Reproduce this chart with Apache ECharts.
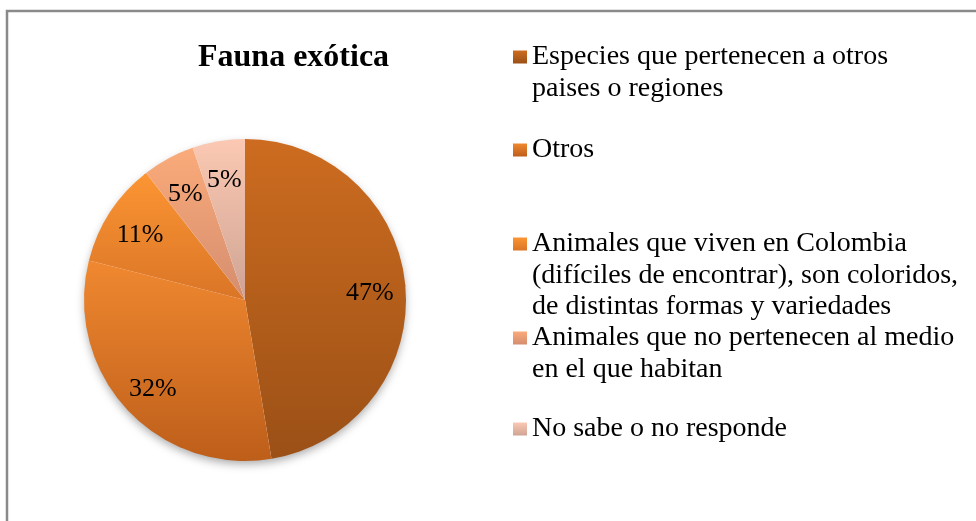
<!DOCTYPE html>
<html>
<head>
<meta charset="utf-8">
<script src="https://cdn.jsdelivr.net/npm/echarts@6/dist/echarts.min.js"></script>
<style>
  html, body { margin: 0; padding: 0; background: #fff; }
  #chart { width: 976px; height: 521px; }
</style>
</head>
<body>
<div id="chart"></div>
<script>
// survey answers (19 people)
var categories = [
    'Especies que pertenecen a otros paises o regiones',
    'Otros',
    'Animales que viven en Colombia (difíciles de encontrar), son coloridos, de distintas formas y variedades',
    'Animales que no pertenecen al medio en el que habitan',
    'No sabe o no responde'
];
var counts = [9, 6, 2, 1, 1];
// wrapped legend lines, as in the original
var legendLines = [
    ['Especies que pertenecen a otros', 'paises o regiones'],
    ['Otros'],
    ['Animales que viven en Colombia', '(difíciles de encontrar), son coloridos,', 'de distintas formas y variedades'],
    ['Animales que no pertenecen al medio', 'en el que habitan'],
    ['No sabe o no responde']
];
var topColors = ['#cd6c20', '#f08830', '#fc9533', '#fbab7a', '#fbc9b3'];
var bottomColors = ['#9b5016', '#bd5e1a', '#da7527', '#d48d6f', '#cfa393'];

var pieCenter = [245, 300];
var lineH = 31.5;
var firstLineMid = [57, 150, 244, 338, 429];

function grad(i) {
    return new echarts.graphic.LinearGradient(0, 0, 0, 1, [
        {offset: 0, color: topColors[i]},
        {offset: 1, color: bottomColors[i]}
    ]);
}

var pieData = categories.map(function (c, i) {
    return {name: c, value: counts[i], itemStyle: {color: grad(i)}};
});

var legends = categories.map(function (c, i) {
    var n = legendLines[i].length;
    return {
        data: [c],
        left: 513,
        top: firstLineMid[i] - (n - 1) * lineH - lineH / 2,
        padding: 0,
        icon: 'rect',
        itemWidth: 14,
        itemHeight: 13,
        selectedMode: false,
        formatter: function () {
            var pre = [];
            for (var k = 1; k < n; k++) pre.push('');
            return pre.concat(legendLines[i]).join('\n');
        },
        textStyle: {
            fontFamily: 'Liberation Serif',
            fontSize: 28,
            lineHeight: lineH,
            color: '#000'
        }
    };
});

var chart = echarts.init(document.getElementById('chart'));
var option = {
    backgroundColor: '#fff',
    animation: false,
    title: {
        text: 'Fauna exótica',
        left: 198,
        top: 42,
        padding: 0,
        textStyle: {
            fontFamily: 'Liberation Serif',
            fontSize: 32,
            fontWeight: 'bold',
            color: '#000'
        }
    },
    legend: legends,
    graphic: [{
        type: 'rect',
        silent: true,
        shape: {x: 7, y: 11, width: 1000, height: 600},
        style: {fill: 'none', stroke: '#8a8a8a', lineWidth: 2.5}
    }],
    series: [{
        type: 'pie',
        z: 3,
        center: pieCenter,
        radius: 161,
        startAngle: 90,
        clockwise: true,
        percentPrecision: 0,
        label: {
            position: 'inside',
            formatter: '{d}%',
            fontFamily: 'Liberation Serif',
            fontSize: 26,
            color: '#000'
        },
        labelLayout: function (p) {
            var r = p.labelRect;
            var lx = r.x + r.width / 2, ly = r.y + r.height / 2;
            var k = 1.5;
            return {
                x: pieCenter[0] + (lx - pieCenter[0]) * k,
                y: pieCenter[1] + (ly - pieCenter[1]) * k + 4
            };
        },
        emphasis: {disabled: true},
        data: pieData
    }, {
        // soft shadow under the whole pie
        type: 'pie',
        z: 1,
        silent: true,
        center: pieCenter,
        radius: 160,
        startAngle: 90,
        label: {show: false},
        labelLine: {show: false},
        itemStyle: {
            color: '#fff',
            shadowBlur: 10,
            shadowOffsetY: 4,
            shadowColor: 'rgba(0,0,0,0.35)'
        },
        emphasis: {disabled: true},
        data: [{name: 'sombra', value: 1}]
    }]
};
chart.setOption(option);
</script>
</body>
</html>
